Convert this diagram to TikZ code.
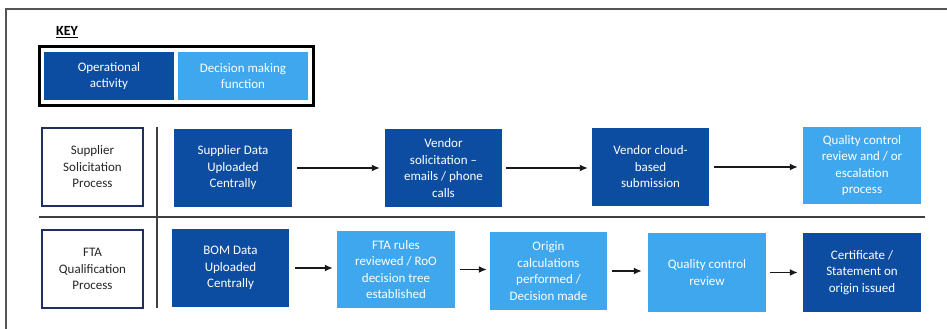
\documentclass[tikz,border=0pt]{standalone}
\usepackage{fontspec}
\setmainfont{Carlito}
\usetikzlibrary{arrows.meta}
\definecolor{dkb}{HTML}{0C4DA2}
\definecolor{ltb}{HTML}{3FA7EE}
\definecolor{navy}{HTML}{1F2F5F}
\definecolor{frame}{HTML}{555555}
\begin{document}
\begin{tikzpicture}[x=1pt,y=-1pt,
  box/.style={draw=none, text=white, align=center, inner sep=2pt,
    font=\fontsize{13}{16.5}\selectfont},
  dk/.style={box, fill=dkb},
  lt/.style={box, fill=ltb},
  lab/.style={draw=navy, line width=2.6pt, fill=white, text=black!85, align=center,
    font=\fontsize{13}{16.5}\selectfont, minimum width=101pt, minimum height=78pt},
  arr/.style={line width=1.5pt, black!90, -{Latex[length=8pt,width=7pt]}},
  divider/.style={line width=1.4pt, black!75}]
\useasboundingbox (0,0) rectangle (947,329);
% outer frame lines
\draw[frame, line width=1.5pt] (947,9) -- (6,9) -- (6,329);
% key
\node[font=\fontsize{14}{16}\selectfont\bfseries, text=black, inner sep=1pt] (key) at (67,32) {\underline{KEY}};
\node[draw=black, line width=3pt, minimum width=274pt, minimum height=59pt, inner sep=0pt] (keybox) at (176.5,76) {};
\node[dk, minimum width=130pt, minimum height=48pt] (kop) at (109,76) {Operational\\activity};
\node[lt, minimum width=130pt, minimum height=48pt] (kdm) at (243,76) {Decision making\\function};
% dividers
\coordinate (vtop) at (157,127);
\coordinate (vbot) at (157,308);
\coordinate (hl) at (39,217);
\coordinate (hr) at (925,217);
\draw[divider] (vtop) -- (vbot);
\draw[divider] (hl) -- (hr);
% labels
\node[lab] (sup) at (92.5,167) {Supplier\\Solicitation\\Process};
\node[lab] (fta) at (92.5,269) {FTA\\Qualification\\Process};
% row 1
\node[dk, minimum width=118pt, minimum height=78pt] (sd) at (233,168) {Supplier Data\\Uploaded\\Centrally};
\node[dk, minimum width=117pt, minimum height=78pt] (vs) at (443.5,168) {Vendor\\solicitation –\\emails / phone\\calls};
\node[dk, minimum width=117pt, minimum height=78pt] (vc) at (650.5,167) {Vendor cloud-\\based\\submission};
\node[lt, minimum width=118pt, minimum height=77pt] (qc1) at (862,165.5) {Quality control\\review and / or\\escalation\\process};
% row 2
\node[dk, minimum width=117pt, minimum height=78pt] (bom) at (230.5,268) {BOM Data\\Uploaded\\Centrally};
\node[lt, minimum width=118pt, minimum height=77pt] (rules) at (396,269.5) {FTA rules\\reviewed / RoO\\decision tree\\established};
\node[lt, minimum width=117pt, minimum height=78pt] (orig) at (548.5,271) {Origin\\calculations\\performed /\\Decision made};
\node[lt, minimum width=118pt, minimum height=79pt] (qc2) at (707,272.5) {Quality control\\review};
\node[dk, minimum width=118pt, minimum height=79pt] (cert) at (862,272.5) {Certificate /\\Statement on\\origin issued};
% arrows
\draw[arr, shorten <=5pt, shorten >=5pt] (sd.east) -- (sd.east -| vs.west);
\draw[arr, shorten <=4pt, shorten >=4pt] (vs.east) -- (vs.east -| vc.west);
\draw[arr, shorten <=5pt, shorten >=5pt] (vc.east) -- (vc.east -| qc1.west);
\draw[arr, shorten <=6pt, shorten >=4pt] (bom.east) -- (bom.east -| rules.west);
\draw[arr, shorten <=5pt, shorten >=3pt] (rules.east) -- (rules.east -| orig.west);
\draw[arr, shorten <=5pt, shorten >=6pt] (orig.east) -- (orig.east -| qc2.west);
\draw[arr, shorten <=4pt, shorten >=5pt] (qc2.east) -- (qc2.east -| cert.west);
\end{tikzpicture}
\end{document}
